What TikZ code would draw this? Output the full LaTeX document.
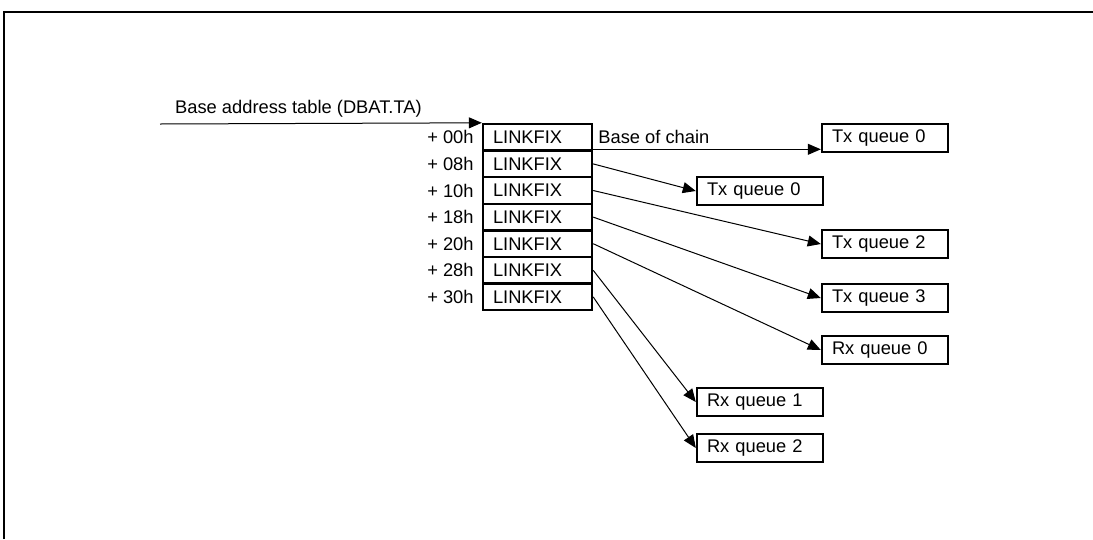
\documentclass[tikz,border=0pt]{standalone}
\usepackage{fontspec}
\setmainfont{Liberation Sans}
\usepackage{tikz}
\usetikzlibrary{arrows.meta, positioning, calc}

\begin{document}
\begin{tikzpicture}[
  x=1pt, y=-1pt,
  txt/.style={font=\fontsize{18.3}{21}\selectfont, inner sep=0pt},
  linkbox/.style={draw, line width=2.4pt, minimum height=26.6pt, text width=89pt, inner xsep=10pt, inner ysep=0pt, align=left, font=\fontsize{18.3}{21}\selectfont},
  qbox/.style={draw, line width=2.4pt, minimum height=28pt, text width=106pt, inner xsep=10pt, inner ysep=0pt, align=left, font=\fontsize{18.3}{21}\selectfont},
  offlabel/.style={font=\fontsize{18.3}{21}\selectfont, anchor=east, inner xsep=8pt, inner ysep=0pt},
  arr/.style={-{Triangle[length=13pt, width=11pt]}, line width=1pt},
]
  \useasboundingbox (0,0) rectangle (1093,539);

  % frame
  \draw[line width=2pt] (4,539) -- (4,12) -- (1093,12);

  % table of LINKFIX entries
  \foreach \off [count=\i from 0] in {00,08,10,18,20,28,30} {
    \node[linkbox] (lf\i) at (537.5, 137.3+26.6*\i) {LINKFIX};
    \node[offlabel] (off\i) at (lf\i.west) {+ \off h};
  }

  % base address pointer
  \coordinate (feed) at (160,124);
  \node[txt, anchor=west] (base) at (175,109) {Base address table (DBAT.TA)};
  \draw[arr] (feed) -- (lf0.north west);

  % queues
  \node[qbox] (txq0a) at (885,138) {Tx queue 0};
  \node[qbox] (txq0b) at (760,191) {Tx queue 0};
  \node[qbox] (txq2) at (885,244) {Tx queue 2};
  \node[qbox] (txq3) at (885,298) {Tx queue 3};
  \node[qbox] (rxq0) at (885,350) {Rx queue 0};
  \node[qbox] (rxq1) at (760,402) {Rx queue 1};
  \node[qbox] (rxq2) at (760,448) {Rx queue 2};

  % links
  \node[txt, anchor=west] (chain) at ([xshift=5pt]lf0.east) {Base of chain};
  \draw[arr] ([yshift=-12pt]lf0.east) -- ([yshift=-12pt]lf0.east -| txq0a.west);
  \foreach \src/\dst in {1/txq0b, 2/txq2, 3/txq3, 4/rxq0, 5/rxq1, 6/rxq2} {
    \draw[arr] (lf\src.east) -- (\dst.west);
  }
\end{tikzpicture}
\end{document}
